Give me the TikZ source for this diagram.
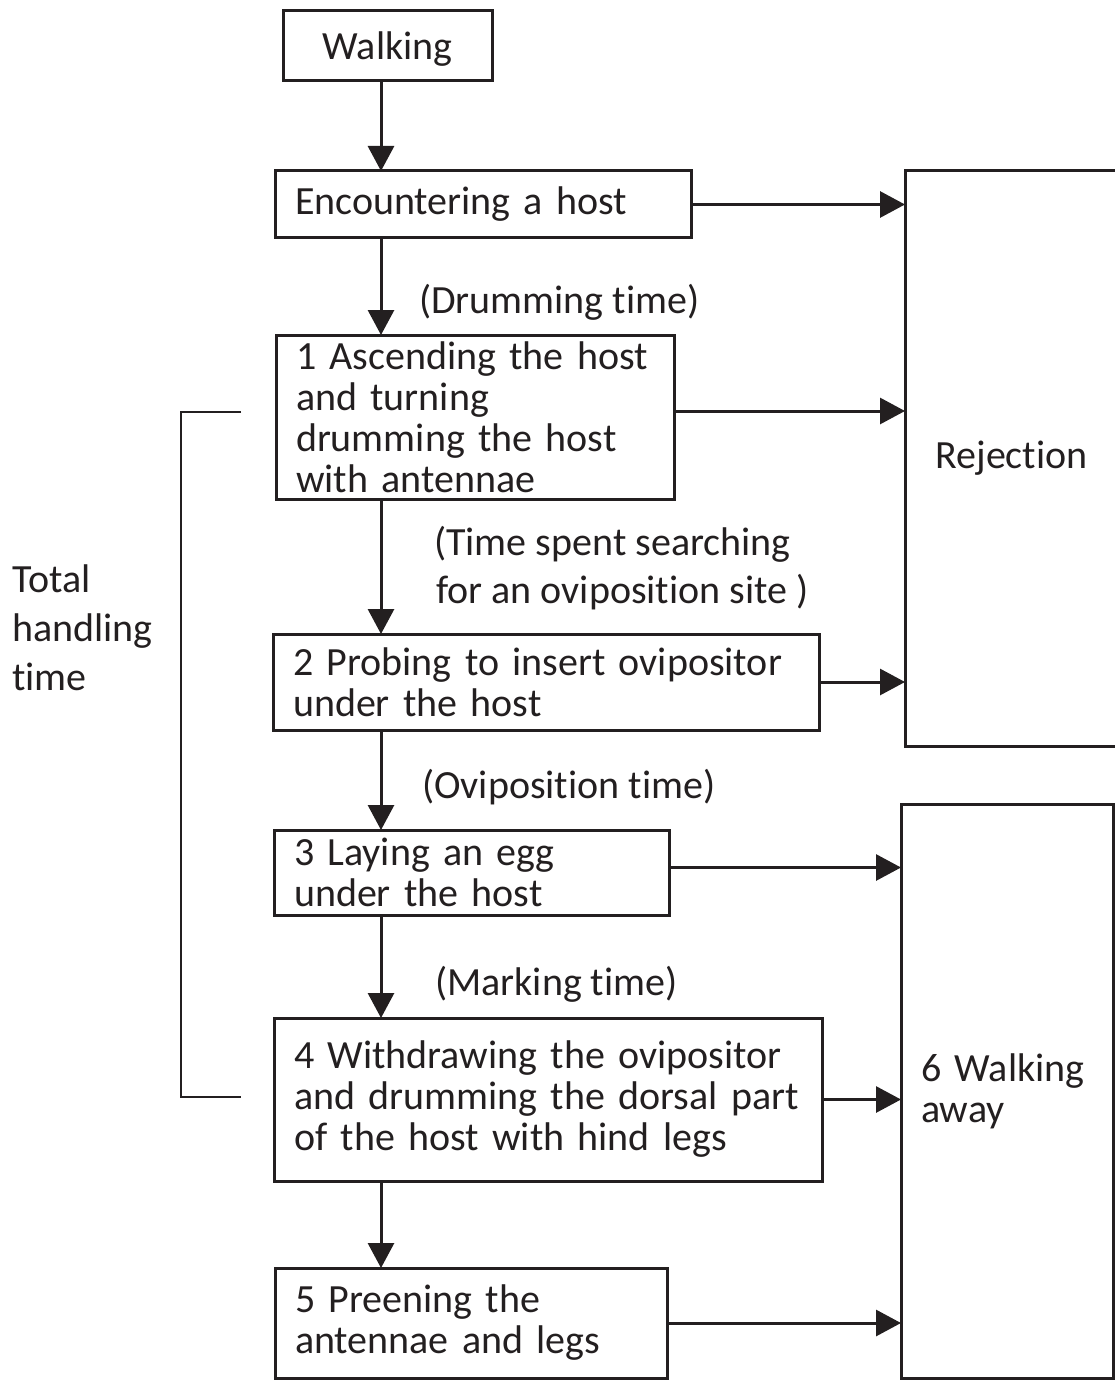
\documentclass[tikz,border=0pt]{standalone}
\usepackage{fontspec}
\setmainfont{Carlito}[Ligatures=NoCommon]
\usetikzlibrary{arrows.meta}
\definecolor{ink}{HTML}{231F20}
\begin{document}
\begin{tikzpicture}[x=1pt,y=-1pt,
  every node/.style={text=ink, font=\fontsize{40}{41}\selectfont},
  box/.style={draw=ink, line width=3pt, anchor=north west, inner xsep=20pt,
    inner ysep=0pt, outer sep=0pt, align=left},
  arr/.style={draw=ink, line width=3pt, -{Triangle[length=25pt,width=26pt]}},
  brk/.style={draw=ink, line width=1.5pt},
  lbl/.style={anchor=base west, inner sep=0pt}]
\useasboundingbox (0,0) rectangle (1115,1380);

% process boxes
\node[box, text width=169pt, minimum height=70pt, align=center,
  text height=28pt, text depth=0pt] (walk) at (283,11) {Walking};
\node[box, text width=376pt, minimum height=67pt] (enc) at (275,171) {Encountering a host};
\node[box, text width=358pt, minimum height=164pt] (b1) at (276,335)
  {1 Ascending the host\\and turning\\drumming the host\\with antennae};
\node[box, text width=506pt, minimum height=96pt] (b2) at (273,634)
  {2 Probing to insert ovipositor\\under the host};
\node[box, text width=355pt, minimum height=85pt] (b3) at (274,830)
  {3 Laying an egg\\under the host};
\node[box, text width=508pt, minimum height=163pt] (b4) at (274,1018)
  {4 Withdrawing the ovipositor\\and drumming the dorsal part\\of the host with hind legs};
\node[box, text width=352pt, minimum height=110pt] (b5) at (275,1268)
  {5 Preening the\\antennae and legs};

% outcome boxes
\node[box, text width=173pt, minimum height=575pt, align=center] (rej) at (905,171) {Rejection};
\node[box, text width=172pt, minimum height=574pt] (wa) at (901,804) {6 Walking\\away};

% main sequence
\coordinate (ax) at (381,0);
\draw[arr] (walk.south -| ax) -- (enc.north -| ax);
\draw[arr] (enc.south -| ax) -- (b1.north -| ax);
\draw[arr] (b1.south -| ax) -- (b2.north -| ax);
\draw[arr] (b2.south -| ax) -- (b3.north -| ax);
\draw[arr] (b3.south -| ax) -- (b4.north -| ax);
\draw[arr] (b4.south -| ax) -- (b5.north -| ax);

% exits to the outcomes
\draw[arr] (enc.east) -- (enc.east -| rej.west);
\draw[arr] ([yshift=6pt]b1.east) -- ([yshift=6pt]b1.east -| rej.west);
\draw[arr] (b2.east) -- (b2.east -| rej.west);
\draw[arr] ([yshift=5pt]b3.east) -- ([yshift=5pt]b3.east -| wa.west);
\draw[arr] (b4.east) -- (b4.east -| wa.west);
\draw[arr] (b5.east) -- (b5.east -| wa.west);

% interval labels
\node[lbl] (ldrum) at (419,313) {(Drumming time)};
\node[lbl] (lsearchA) at (434,555) {(Time spent searching};
\node[lbl] (lsearchB) at (436,603) {for an oviposition site )};
\node[lbl] (lovi) at (422,798) {(Oviposition time)};
\node[lbl] (lmark) at (435,995) {(Marking time)};

% total handling time bracket
\draw[brk] (241,412) -- (181,412) -- (181,1097) -- (241,1097);
\node[lbl] (totA) at (12,592) {Total};
\node[lbl] (totB) at (12,641) {handling};
\node[lbl] (totC) at (12,690) {time};
\end{tikzpicture}
\end{document}
